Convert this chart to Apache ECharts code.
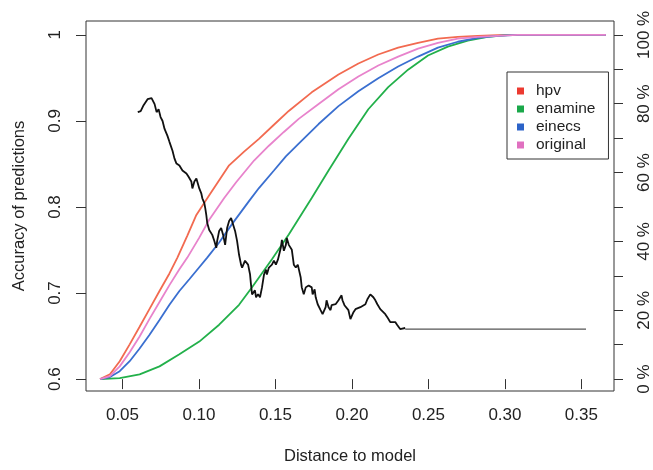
<!DOCTYPE html>
<html>
<head>
<meta charset="utf-8">
<script src="https://cdn.jsdelivr.net/npm/echarts@6/dist/echarts.min.js"></script>
<style>
html,body{margin:0;padding:0;background:#fff;}
#chart{width:653px;height:470px;}
</style>
</head>
<body>
<div id="chart"></div>
<script>
// ---- data ----
const xTicks = [0.05, 0.10, 0.15, 0.20, 0.25, 0.30, 0.35];
const leftTicks = [0.6, 0.7, 0.8, 0.9, 1.0];
const rightTicks = [0, 10, 20, 30, 40, 50, 60, 70, 80, 90, 100];
const rightLabels = [0, 20, 40, 60, 80, 100];

const seriesNames = ['hpv', 'enamine', 'einecs', 'original'];

// cumulative percentage curves (right axis)
const hpvX = [0.0353,0.0418,0.0482,0.0547,0.0612,0.0677,0.0742,0.0807,0.0859,0.0924,0.0983,0.1067,0.1197,0.1295,0.1392,0.1490,0.1587,0.1737,0.1912,0.2042,0.2172,0.2302,0.2432,0.2562,0.2692,0.2822,0.2952,0.3082,0.3660];
const hpvY = [0,1.4,5.2,10.1,15.2,20.4,25.6,30.7,35.3,41.7,47.7,53.4,62.1,66.1,69.8,73.9,77.9,83.3,88.5,91.7,94.3,96.3,97.7,98.9,99.4,99.7,99.9,100,100];

const enamineX = [0.0353,0.0482,0.0612,0.0742,0.0872,0.1002,0.1132,0.1262,0.1347,0.1477,0.1587,0.1737,0.1847,0.1977,0.2107,0.2237,0.2367,0.2497,0.2627,0.2757,0.2887,0.3017,0.3147,0.3660];
const enamineY = [0,0.3,1.4,3.7,7.2,10.9,15.8,21.6,26.7,34.8,42.0,52.6,60.6,69.8,78.4,84.8,89.9,94.0,96.6,98.3,99.4,99.9,100,100];

const einecsX = [0.0353,0.0418,0.0482,0.0547,0.0612,0.0677,0.0742,0.0807,0.0872,0.0937,0.1002,0.1054,0.1132,0.1217,0.1327,0.1392,0.1490,0.1568,0.1652,0.1782,0.1912,0.2042,0.2172,0.2302,0.2432,0.2562,0.2692,0.2822,0.2952,0.3082,0.3660];
const einecsY = [0,0.6,2.3,5.2,8.9,12.9,17.2,21.6,25.6,29.0,32.5,35.3,39.7,45.1,51.7,55.5,60.6,64.7,68.4,74.1,79.3,83.6,87.4,90.8,93.7,96.3,98.0,99.1,99.7,100,100];

const originalX = [0.0353,0.0418,0.0482,0.0547,0.0612,0.0677,0.0742,0.0807,0.0872,0.0924,0.1002,0.1067,0.1165,0.1243,0.1360,0.1457,0.1555,0.1652,0.1782,0.1912,0.2042,0.2172,0.2302,0.2432,0.2562,0.2692,0.2822,0.2952,0.3082,0.3660];
const originalY = [0,0.9,3.7,7.8,12.4,17.5,22.4,27.3,31.9,35.3,41.1,46.3,52.6,57.2,63.5,67.8,71.8,75.6,79.9,84.2,87.9,91.1,93.7,96.0,97.7,98.9,99.4,99.7,100,100];

// accuracy of predictions (left axis)
const accX = [0.0600,0.0619,0.0638,0.0664,0.0690,0.0710,0.0723,0.0736,0.0749,0.0762,0.0775,0.0794,0.0807,0.0827,0.0840,0.0853,0.0872,0.0892,0.0905,0.0918,0.0931,0.0950,0.0957,0.0970,0.0983,0.1002,0.1015,0.1022,0.1035,0.1041,0.1048,0.1054,0.1067,0.1087,0.1100,0.1113,0.1119,0.1132,0.1145,0.1158,0.1171,0.1184,0.1197,0.1210,0.1217,0.1236,0.1249,0.1262,0.1275,0.1282,0.1301,0.1308,0.1321,0.1334,0.1340,0.1347,0.1366,0.1373,0.1386,0.1399,0.1412,0.1425,0.1438,0.1444,0.1457,0.1477,0.1490,0.1503,0.1516,0.1535,0.1542,0.1555,0.1568,0.1574,0.1587,0.1607,0.1620,0.1633,0.1646,0.1665,0.1672,0.1685,0.1698,0.1717,0.1737,0.1743,0.1756,0.1763,0.1776,0.1795,0.1808,0.1828,0.1834,0.1847,0.1860,0.1867,0.1880,0.1893,0.1912,0.1932,0.1938,0.1951,0.1964,0.1977,0.1990,0.1997,0.2010,0.2023,0.2036,0.2055,0.2068,0.2088,0.2101,0.2120,0.2127,0.2140,0.2153,0.2166,0.2185,0.2198,0.2218,0.2231,0.2250,0.2263,0.2283,0.2296,0.2315,0.2328,0.2348];
const accY = [0.9102,0.9114,0.9183,0.9252,0.9264,0.9195,0.9102,0.9137,0.9045,0.8999,0.8907,0.8826,0.8757,0.8654,0.8562,0.8504,0.8481,0.8424,0.8447,0.8389,0.8354,0.8297,0.8216,0.8297,0.8331,0.8216,0.8159,0.8101,0.8044,0.7986,0.7906,0.7814,0.7733,0.7676,0.7607,0.7526,0.7607,0.7722,0.7756,0.7676,0.7560,0.7756,0.7837,0.7871,0.7848,0.7722,0.7607,0.7445,0.7330,0.7296,0.7376,0.7388,0.7330,0.7215,0.7100,0.6985,0.7031,0.6951,0.6985,0.6951,0.7066,0.7215,0.7273,0.7215,0.7296,0.7330,0.7376,0.7330,0.7388,0.7526,0.7618,0.7491,0.7560,0.7641,0.7560,0.7503,0.7330,0.7296,0.7330,0.7181,0.7066,0.6985,0.7066,0.7089,0.7066,0.6985,0.7043,0.6951,0.6870,0.6801,0.6755,0.6836,0.6916,0.6836,0.6801,0.6859,0.6836,0.6870,0.6916,0.6974,0.6916,0.6859,0.6870,0.6801,0.6697,0.6686,0.6778,0.6813,0.6801,0.6836,0.6859,0.6870,0.6928,0.6985,0.7008,0.6951,0.6916,0.6870,0.6813,0.6801,0.6755,0.6720,0.6663,0.6686,0.6663,0.6628,0.6582,0.6571,0.6594];
const flatX = [0.2348, 0.3530];
const flatY = [0.658, 0.658];

// ---- chart ----
const zip = (xs, ys) => xs.map((x, i) => [x, ys[i]]);
const FONT = '"Liberation Sans", Arial, Helvetica, sans-serif';
const TXT = '#222';

const colors = {
  hpv: { icon: '#ec3a30', line: '#f26a50' },
  enamine: { icon: '#1aa84a', line: '#22b04a' },
  einecs: { icon: '#2c63c8', line: '#3a6fd0' },
  original: { icon: '#e070c0', line: '#e883cc' }
};
const curveData = {
  hpv: zip(hpvX, hpvY),
  enamine: zip(enamineX, enamineY),
  einecs: zip(einecsX, einecsY),
  original: zip(originalX, originalY)
};

const chart = echarts.init(document.getElementById('chart'), null, { renderer: 'canvas' });

const series = seriesNames.map(n => ({
  name: n,
  type: 'line',
  yAxisIndex: 1,
  data: curveData[n],
  showSymbol: false,
  symbol: 'none',
  itemStyle: { color: colors[n].icon },
  lineStyle: { color: colors[n].line, width: 1.8 },
  z: 2
}));
series.push({
  name: 'accuracy',
  type: 'line',
  yAxisIndex: 0,
  data: zip(accX, accY),
  symbol: 'none',
  lineStyle: { color: '#111', width: 1.8 },
  z: 3
});
series.push({
  name: 'accuracyFlat',
  type: 'line',
  yAxisIndex: 0,
  data: zip(flatX, flatY),
  symbol: 'none',
  lineStyle: { color: '#555', width: 1.3 },
  z: 3
});

chart.setOption({
  animation: false,
  backgroundColor: '#fff',
  textStyle: { fontFamily: FONT, color: TXT },
  grid: {
    left: 86, right: 36, top: 21, bottom: 75,
    show: true, borderColor: '#333', borderWidth: 1, backgroundColor: 'transparent'
  },
  legend: {
    data: seriesNames,
    orient: 'vertical',
    left: 507, top: 72,
    width: 102,
    icon: 'rect',
    itemWidth: 7, itemHeight: 7,
    itemGap: 2,
    padding: [11, 13, 6, 10],
    borderColor: '#333', borderWidth: 1,
    backgroundColor: '#fff',
    textStyle: { fontFamily: FONT, fontSize: 15.5, color: TXT, padding: [0, 0, 0, 7] }
  },
  xAxis: {
    type: 'value',
    min: 0.02615, max: 0.3713,
    name: 'Distance to model',
    nameLocation: 'middle',
    nameGap: 57,
    nameTextStyle: { fontFamily: FONT, fontSize: 16.5, color: TXT },
    axisLine: { show: false },
    axisTick: { show: true, length: 10, lineStyle: { color: '#333' }, customValues: xTicks },
    axisLabel: { customValues: xTicks, formatter: v => v.toFixed(2), fontSize: 17, color: TXT, margin: 16, fontFamily: FONT },
    splitLine: { show: false }
  },
  yAxis: [
    {
      type: 'value',
      position: 'left',
      min: 0.5862, max: 1.0161,
      name: 'Accuracy of predictions',
      nameLocation: 'middle',
      nameGap: 58,
      nameTextStyle: { fontFamily: FONT, fontSize: 16.5, color: TXT },
      axisLine: { show: false },
      axisTick: { show: true, length: 10, lineStyle: { color: '#333' }, customValues: leftTicks },
      axisLabel: { customValues: leftTicks, rotate: 90, formatter: v => String(+v.toFixed(1)), fontSize: 17, color: TXT, margin: 22, fontFamily: FONT },
      splitLine: { show: false }
    },
    {
      type: 'value',
      position: 'right',
      min: -3.45, max: 104.03,
      axisLine: { show: false },
      axisTick: { show: true, length: 9, lineStyle: { color: '#333' }, customValues: rightTicks },
      axisLabel: { customValues: rightLabels, rotate: 90, formatter: v => Math.round(v) + ' %', fontSize: 17, color: TXT, margin: 22, fontFamily: FONT },
      splitLine: { show: false }
    }
  ],
  series: series
});
</script>
</body>
</html>
